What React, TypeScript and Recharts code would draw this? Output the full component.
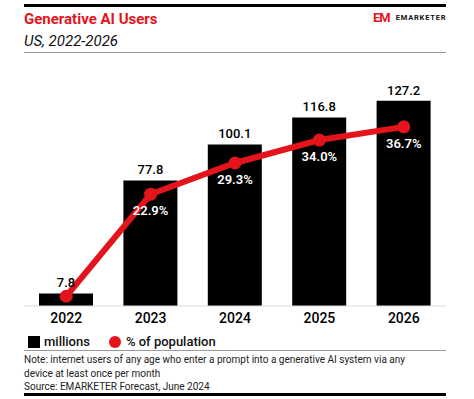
import React from 'react'
import { ComposedChart, Bar, Line, XAxis, YAxis, LabelList } from 'recharts'

const years = ['2022', '2023', '2024', '2025', '2026']
const millions = [7.8, 77.8, 100.1, 116.8, 127.2]
const pctOfPopulation = [2.0, 22.9, 29.3, 34.0, 36.7]

const RED = '#e3141b'
const FONT = 'Roboto, "Liberation Sans", Arial, sans-serif'

const data = years.map((year, i) => ({
  year,
  millions: millions[i],
  pct: pctOfPopulation[i],
}))

// white % labels under the dots, 2022 has none
const PctLabel = (props: any) => {
  const { x, y, value, index } = props
  if (index === 0) return null
  return (
    <text x={x} y={y + 21} textAnchor="middle" fill="#fff" fontSize={13} fontWeight={600} fontFamily={FONT}>
      {Number(value).toFixed(1)}%
    </text>
  )
}

export default function App() {
  return (
    <div style={{ position: 'absolute', left: 0, top: 0, width: 474, height: 399, background: '#fff', fontFamily: FONT }}>
      <div style={{ position: 'absolute', left: 24, top: 4, width: 422, height: 3, background: '#000' }} />
      <div style={{ position: 'absolute', left: 24, top: 10, fontSize: 15, fontWeight: 700, color: RED }}>
        Generative AI Users
      </div>
      <div style={{ position: 'absolute', left: 24, top: 32, fontSize: 15, fontStyle: 'italic', color: '#111' }}>
        US, 2022-2026
      </div>
      <div style={{ position: 'absolute', left: 24, top: 52, width: 422, height: 1, background: '#999' }} />
      <div style={{ position: 'absolute', left: 373, top: 10, display: 'flex', alignItems: 'center', gap: 6 }}>
        <span style={{ color: RED, fontWeight: 700, fontSize: 13, letterSpacing: -1 }}>EM</span>
        <span style={{ color: '#111', fontWeight: 700, fontSize: 7.5, letterSpacing: 0.8 }}>EMARKETER</span>
      </div>

      <div style={{ position: 'absolute', left: 0, top: 0 }}>
        <ComposedChart width={474} height={340} data={data} margin={{ top: 80, right: 28, left: 24, bottom: 0 }} barCategoryGap={30}>
          <XAxis
            dataKey="year"
            axisLine={{ stroke: '#ddd' }}
            tickLine={false}
            tickMargin={1}
            height={34}
            tick={{ fill: '#000', fontSize: 14, fontWeight: 500, fontFamily: FONT }}
          />
          <YAxis yAxisId="left" hide domain={[0, 140]} />
          <YAxis yAxisId="right" hide domain={[0, 46.3]} />
          <Bar yAxisId="left" dataKey="millions" fill="#000" barSize={54} isAnimationActive={false}>
            <LabelList dataKey="millions" position="top" offset={6} fill="#000" fontSize={13} fontWeight={500} fontFamily={FONT} />
          </Bar>
          <Line
            yAxisId="right"
            dataKey="pct"
            stroke={RED}
            strokeWidth={6}
            dot={{ r: 6.5, fill: RED, stroke: 'none' }}
            activeDot={false}
            isAnimationActive={false}
          >
            <LabelList dataKey="pct" content={<PctLabel />} />
          </Line>
        </ComposedChart>
      </div>

      <div style={{ position: 'absolute', left: 28, top: 334, display: 'flex', alignItems: 'center', fontSize: 13, fontWeight: 500, color: '#111' }}>
        <span style={{ width: 12, height: 12, background: '#000', marginRight: 4 }} />
        <span>millions</span>
        <span style={{ width: 12, height: 12, borderRadius: 6, background: RED, marginLeft: 19, marginRight: 5 }} />
        <span>% of population</span>
      </div>
      <div style={{ position: 'absolute', left: 24, top: 350, width: 422, height: 1, background: '#999' }} />
      <div style={{ position: 'absolute', left: 24, top: 353, width: 400, fontSize: 10, lineHeight: '13.5px', color: '#222' }}>
        Note: internet users of any age who enter a prompt into a generative AI system via any device at least once per month
      </div>
      <div style={{ position: 'absolute', left: 24, top: 381, fontSize: 10, color: '#222' }}>
        Source: EMARKETER Forecast, June 2024
      </div>
      <div style={{ position: 'absolute', left: 24, top: 393, width: 422, height: 3, background: '#000' }} />
    </div>
  )
}
